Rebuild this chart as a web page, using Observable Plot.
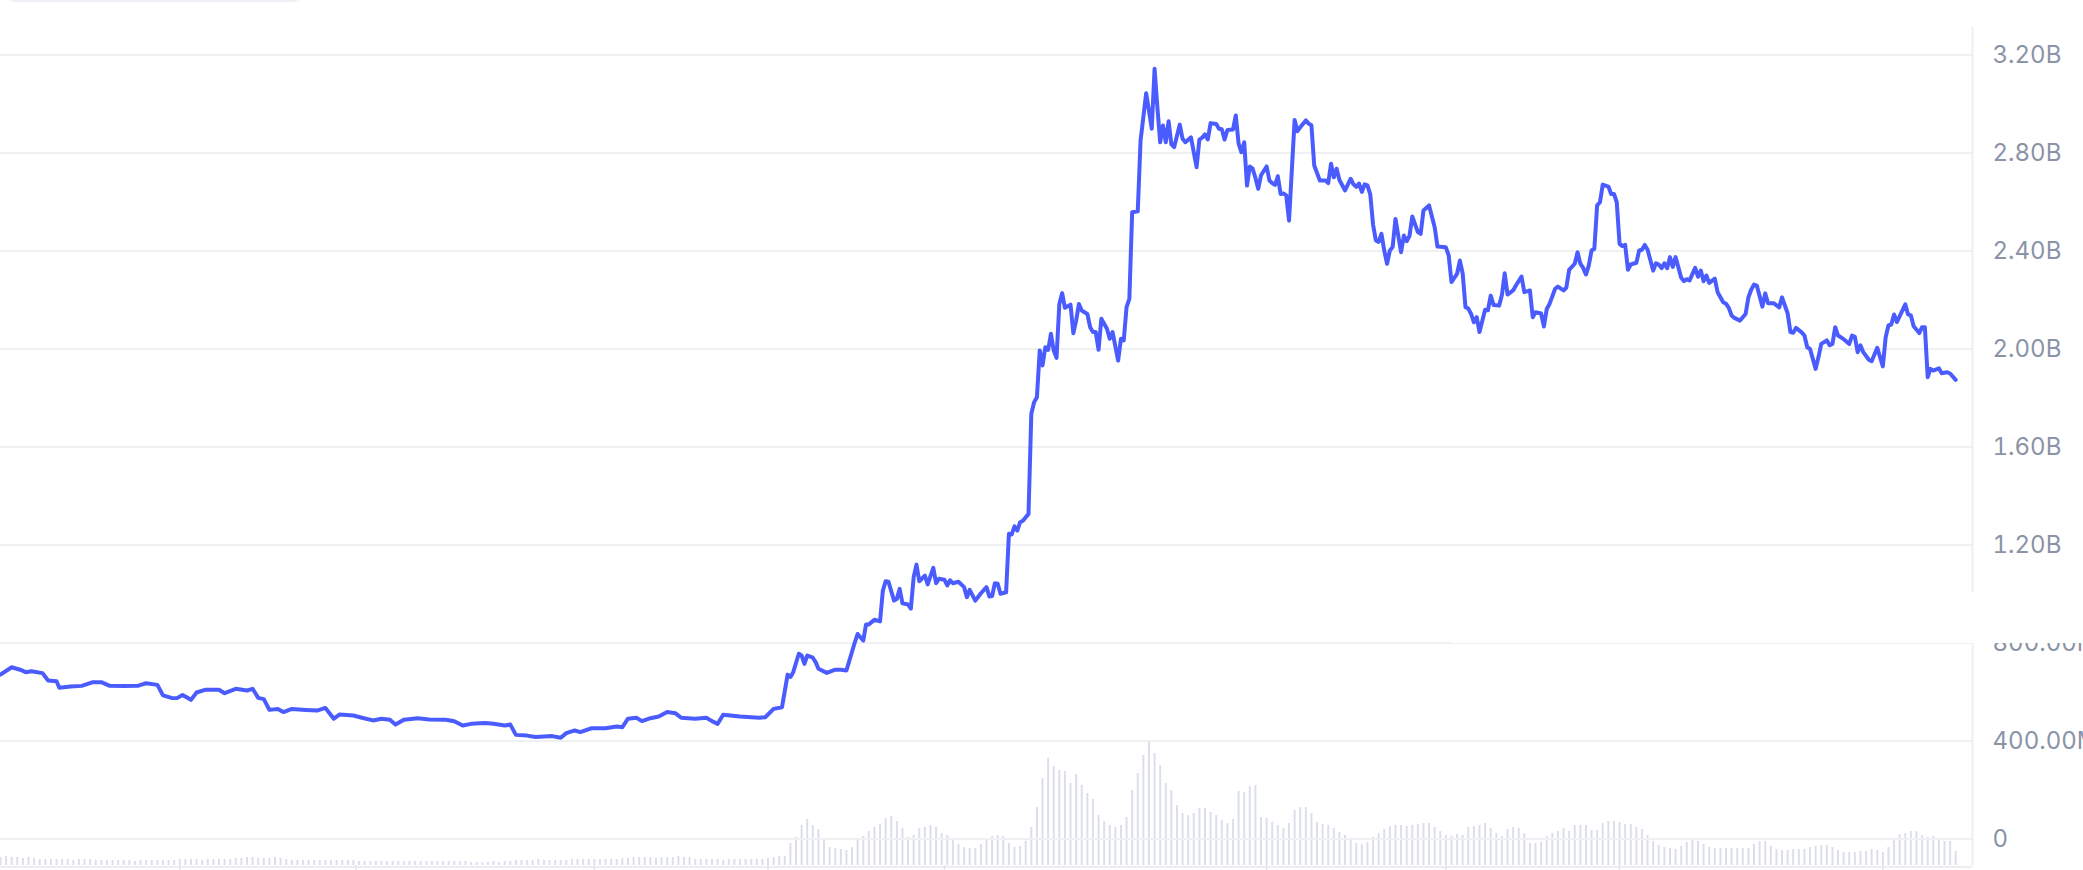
<!DOCTYPE html>
<html>
<head>
<meta charset="utf-8">
<script src="https://cdn.jsdelivr.net/npm/d3@7"></script>
<script src="https://cdn.jsdelivr.net/npm/@observablehq/plot@0.6"></script>
<style>
html, body { margin: 0; padding: 0; background: #ffffff; }
#wrap { position: relative; width: 2083px; height: 870px; overflow: hidden; background: #ffffff; }
#wrap svg { position: absolute; left: 0; top: 0; max-width: none !important; background: transparent !important; }
#tab { position: absolute; left: 2px; top: -40px; width: 304px; height: 42px; border-radius: 14px; background: #edf0f4; }
#cover { position: absolute; left: 1452px; top: 592px; width: 640px; height: 51px; background: #ffffff; }
</style>
</head>
<body>
<div id="wrap"></div>
<script>
// ---- market cap line (day index, value in billions USD) ----
const days = [
  0, 4, 7, 9, 11, 15, 17, 20, 21, 25,
  29, 33, 36, 39, 44, 49, 52, 56, 58, 61,
  63, 65, 68, 70, 73, 78, 80, 84, 88, 90,
  92, 94, 96, 99, 101, 104, 109, 113, 116, 119,
  121, 126, 129, 133, 136, 139, 141, 144, 149, 153,
  159, 162, 165, 168, 173, 176, 180, 182, 184, 188,
  191, 197, 200, 202, 205, 207, 211, 216, 220, 222,
  224, 227, 229, 232, 235, 238, 241, 243, 248, 252,
  254, 256, 258, 264, 268, 271, 273, 276, 279, 281,
  282, 283, 285, 286, 287, 288, 290, 291, 292, 295,
  298, 300, 302, 305, 306, 308, 309, 310, 312, 314,
  315, 316, 317, 319, 320, 321, 322, 324, 325, 326,
  327, 328, 330, 331, 333, 334, 335, 337, 338, 339,
  340, 342, 344, 345, 346, 348, 350, 352, 353, 354,
  355, 356, 357, 359, 360, 361, 362, 363, 364, 365,
  367, 368, 369, 370, 371, 372, 373, 374, 375, 376,
  377, 378, 379, 380, 382, 383, 384, 385, 386, 388,
  389, 390, 391, 392, 393, 395, 396, 397, 399, 400,
  401, 402, 403, 404, 406, 407, 409, 410, 411, 412,
  413, 414, 415, 416, 417, 418, 419, 421, 422, 423,
  425, 427, 428, 429, 430, 431, 432, 434, 435, 436,
  437, 438, 440, 441, 442, 443, 444, 445, 446, 447,
  448, 449, 450, 452, 453, 454, 455, 456, 457, 458,
  459, 460, 462, 463, 464, 466, 467, 468, 469, 471,
  473, 474, 475, 476, 477, 478, 480, 482, 483, 484,
  485, 486, 487, 488, 489, 490, 491, 492, 493, 494,
  495, 496, 497, 498, 500, 501, 502, 503, 504, 506,
  507, 508, 510, 512, 513, 516, 517, 518, 519, 520,
  521, 522, 523, 524, 525, 526, 527, 528, 530, 531,
  532, 533, 535, 536, 537, 538, 540, 541, 543, 544,
  546, 547, 548, 550, 551, 552, 553, 555, 556, 558,
  559, 560, 562, 563, 564, 565, 566, 567, 568, 569,
  570, 571, 572, 574, 575, 576, 577, 578, 579, 580,
  581, 582, 584, 585, 586, 587, 588, 590, 591, 592,
  593, 594, 595, 596, 597, 598, 600, 601, 602, 603,
  605, 606, 607, 608, 609, 610, 612, 613, 615, 616,
  617, 618, 619, 621, 623, 624, 625, 626, 627, 629,
  630, 631, 633, 635, 636, 638, 639, 640, 641, 643,
  644, 645, 646, 648, 649, 650, 652, 653, 654, 655,
  656, 658, 660, 661, 662, 663, 664, 665, 667, 668,
  670, 672, 673, 674, 675, 676, 677, 680, 681, 682,
  683, 685, 686, 687, 688, 689, 690, 692, 693, 695,
  696, 698
];
const marketCapB = [
  0.671, 0.701, 0.691, 0.681, 0.685, 0.677, 0.647, 0.644, 0.617, 0.622,
  0.625, 0.640, 0.640, 0.625, 0.624, 0.625, 0.636, 0.629, 0.586, 0.576,
  0.575, 0.588, 0.568, 0.598, 0.609, 0.609, 0.595, 0.613, 0.606, 0.613,
  0.576, 0.571, 0.527, 0.531, 0.518, 0.531, 0.527, 0.524, 0.535, 0.491,
  0.508, 0.504, 0.495, 0.484, 0.491, 0.487, 0.467, 0.487, 0.493, 0.488,
  0.487, 0.481, 0.463, 0.470, 0.473, 0.470, 0.463, 0.467, 0.425, 0.422,
  0.416, 0.420, 0.413, 0.432, 0.443, 0.436, 0.452, 0.452, 0.459, 0.456,
  0.491, 0.495, 0.481, 0.493, 0.500, 0.518, 0.513, 0.495, 0.491, 0.495,
  0.481, 0.470, 0.507, 0.500, 0.497, 0.495, 0.497, 0.531, 0.538, 0.671,
  0.661, 0.681, 0.756, 0.749, 0.715, 0.749, 0.740, 0.722, 0.695, 0.678,
  0.691, 0.691, 0.688, 0.803, 0.837, 0.810, 0.876, 0.876, 0.895, 0.888,
  1.014, 1.052, 1.050, 0.973, 0.980, 1.021, 0.962, 0.957, 0.940, 1.069,
  1.120, 1.052, 1.075, 1.039, 1.107, 1.044, 1.062, 1.058, 1.035, 1.056,
  1.044, 1.050, 1.028, 0.987, 1.017, 0.973, 1.003, 1.028, 0.990, 0.992,
  1.044, 1.042, 1.001, 1.007, 1.246, 1.243, 1.276, 1.259, 1.293, 1.299,
  1.327, 1.736, 1.783, 1.803, 1.994, 1.933, 2.007, 1.996, 2.062, 1.994,
  1.964, 2.184, 2.228, 2.168, 2.181, 2.064, 2.116, 2.184, 2.157, 2.143,
  2.089, 2.069, 2.069, 1.997, 2.123, 2.083, 2.042, 2.069, 1.953, 2.042,
  2.035, 2.171, 2.205, 2.558, 2.562, 2.851, 3.044, 2.973, 2.899, 3.144,
  2.987, 2.844, 2.912, 2.844, 2.930, 2.835, 2.824, 2.916, 2.858, 2.844,
  2.864, 2.742, 2.855, 2.863, 2.876, 2.855, 2.922, 2.918, 2.899, 2.897,
  2.855, 2.894, 2.896, 2.953, 2.838, 2.803, 2.844, 2.667, 2.745, 2.736,
  2.699, 2.654, 2.709, 2.745, 2.688, 2.677, 2.670, 2.705, 2.633, 2.635,
  2.627, 2.524, 2.935, 2.889, 2.905, 2.933, 2.920, 2.913, 2.749, 2.688,
  2.688, 2.677, 2.756, 2.701, 2.736, 2.690, 2.647, 2.695, 2.672, 2.662,
  2.675, 2.641, 2.672, 2.668, 2.631, 2.508, 2.443, 2.437, 2.470, 2.402,
  2.348, 2.402, 2.416, 2.531, 2.395, 2.463, 2.440, 2.461, 2.541, 2.477,
  2.470, 2.565, 2.586, 2.497, 2.418, 2.415, 2.382, 2.273, 2.290, 2.307,
  2.361, 2.307, 2.171, 2.165, 2.143, 2.109, 2.130, 2.069, 2.160, 2.158,
  2.218, 2.180, 2.177, 2.220, 2.309, 2.222, 2.239, 2.259, 2.296, 2.232,
  2.239, 2.130, 2.150, 2.145, 2.092, 2.163, 2.184, 2.246, 2.255, 2.239,
  2.250, 2.323, 2.348, 2.395, 2.348, 2.331, 2.304, 2.340, 2.402, 2.409,
  2.586, 2.599, 2.671, 2.663, 2.633, 2.633, 2.599, 2.429, 2.420, 2.425,
  2.323, 2.345, 2.352, 2.402, 2.405, 2.425, 2.405, 2.320, 2.350, 2.345,
  2.330, 2.350, 2.330, 2.375, 2.335, 2.375, 2.291, 2.277, 2.285, 2.280,
  2.331, 2.295, 2.320, 2.277, 2.300, 2.270, 2.287, 2.232, 2.191, 2.185,
  2.168, 2.137, 2.127, 2.116, 2.143, 2.211, 2.242, 2.263, 2.259, 2.173,
  2.227, 2.187, 2.187, 2.170, 2.211, 2.146, 2.069, 2.066, 2.086, 2.068,
  2.055, 2.007, 2.000, 1.919, 1.966, 2.021, 2.035, 2.015, 2.021, 2.089,
  2.055, 2.040, 2.021, 2.055, 2.050, 1.987, 2.015, 1.987, 1.956, 1.950,
  2.005, 1.929, 2.048, 2.096, 2.100, 2.141, 2.110, 2.182, 2.141, 2.137,
  2.093, 2.065, 2.089, 2.089, 1.885, 1.919, 1.912, 1.921, 1.901, 1.905,
  1.900, 1.874
];

// ---- trading volume bars, one every second day starting at day 0 (relative units) ----
const volume = [
  8, 9, 8, 8, 7, 8,
  7, 6, 6, 6, 6, 6, 6, 5, 6, 6, 6, 5,
  5, 5, 5, 5, 5, 5, 4, 5, 5, 5, 5, 5, 5,
  5, 6, 6, 6, 6, 5, 6, 6, 6, 6, 6, 7,
  7, 8, 8, 7, 7, 7, 8, 7,
  6, 5, 5, 5, 5, 5, 5, 5, 5, 5, 5, 5, 5,
  4, 4, 4, 4, 4, 4, 4, 4, 4, 4, 4, 4, 4, 4, 4, 4, 4, 4, 4,
  4, 3, 3, 3, 3, 4, 3, 4, 4,
  5, 5, 5, 5, 6, 5, 5, 5, 5, 5,
  6, 6, 6, 6, 6, 6, 6, 6, 6, 7,
  7, 8, 8, 8, 8, 7, 8,
  8, 8, 9, 8, 8,
  6, 6, 6, 6, 6, 5, 6, 6, 6, 6, 6, 6, 6,
  7, 8, 9,
  9, 22, 28, 40, 46, 40, 36, 25, 18, 17,
  16, 15, 18, 25, 29, 34, 38, 41, 47, 49,
  44, 37, 28, 30, 37, 38, 40, 38, 32, 30,
  26, 21, 18, 17, 17, 21, 26, 29, 30, 29,
  22, 18, 19, 24, 38, 58, 87, 107, 99, 95,
  94, 82, 91, 80, 72, 66, 50, 44, 40, 38,
  40, 48, 75, 92, 110, 124, 112, 100, 82, 75,
  60, 52, 50, 52, 57, 57, 53, 50, 45, 42,
  46, 74, 73, 79, 80, 48, 47, 43, 40, 37,
  42, 55, 58, 58, 52, 43, 41, 40, 37, 33,
  30, 25, 22, 21, 23, 28, 32, 36, 39, 40,
  40, 39, 40, 41, 42, 42, 38, 34, 30, 29,
  31, 30, 38, 39, 40, 42, 37, 32, 29, 36,
  38, 37, 32, 22, 22, 23, 29, 32, 34, 37,
  34, 40, 40, 40, 35, 35, 42, 44, 44, 43,
  41, 41, 38, 36, 30, 24, 20, 18, 17, 16,
  19, 23, 26, 24, 21, 18, 17, 17, 17, 17,
  17, 17, 17, 21, 24, 24, 19, 16, 15, 15,
  16, 16, 16, 18, 19, 20, 20, 18, 15, 13,
  13, 13, 14, 14, 16, 15, 13, 18, 25, 31,
  32, 34, 34, 30, 28, 29, 26, 24, 24, 14
];

// ---- axis ticks ----
const yTicks = [0, 0.4, 0.8, 1.2, 1.6, 2.0, 2.4, 2.8, 3.2];
const yTickLabels = ["0", "400.00M", "800.00M", "1.20B", "1.60B", "2.00B", "2.40B", "2.80B", "3.20B"];
const xTickDays = [64, 127, 212, 274, 337, 452, 516, 578, 672];
const dayDomain = [0, 704];

const lineData = days.map((d, i) => ({day: d, cap: marketCapB[i]}));
const volData = volume.map((v, i) => ({day: i * 2, vol: v}));

const W = 2083, H = 870;
const FONT = "Inter, 'Open Sans', 'DejaVu Sans', sans-serif";

const volPlot = Plot.plot({
  width: W, height: H,
  marginLeft: 0, marginRight: 111, marginTop: 740, marginBottom: 5,
  x: {domain: dayDomain, axis: null},
  y: {domain: [0, 125], axis: null},
  style: {background: "transparent", fontFamily: FONT},
  marks: [
    Plot.ruleX(volData, {x: "day", y1: 0, y2: "vol", stroke: "#dcdfeb", strokeWidth: 2}),
    Plot.ruleY([0], {stroke: "#eceef2", strokeWidth: 2, dy: 1.5}),
    Plot.axisX(xTickDays, {tickSize: 5, tickFormat: () => "", label: null, stroke: "#e3e5ec", strokeWidth: 1.5})
  ]
});

const mainPlot = Plot.plot({
  width: W, height: H,
  marginLeft: 0, marginRight: 111, marginTop: 54.5, marginBottom: 31.5,
  x: {domain: dayDomain, axis: null},
  y: {domain: [0, 3.2], axis: null},
  style: {background: "transparent", fontFamily: FONT, color: "#8b93a7"},
  marks: [
    Plot.gridY(yTicks, {stroke: "#eff0f3", strokeOpacity: 1, strokeWidth: 2}),
    Plot.ruleX([dayDomain[1]], {y1: 3.2, y2: 0, insetTop: -27.5, insetBottom: -27, stroke: "#eff0f3", strokeWidth: 2}),
    Plot.line(lineData, {x: "day", y: "cap", stroke: "#4b5cff", strokeWidth: 4, strokeLinejoin: "round", strokeLinecap: "round"}),
    Plot.axisY(yTicks, {
      anchor: "right", tickSize: 0, tickPadding: 20, label: null,
      tickFormat: (d) => yTickLabels[yTicks.indexOf(d)],
      fontSize: 24, fontFamily: FONT
    })
  ]
});

const wrap = document.getElementById("wrap");
wrap.appendChild(volPlot);
wrap.appendChild(mainPlot);
const cover = document.createElement("div"); cover.id = "cover"; wrap.appendChild(cover);
const tab = document.createElement("div"); tab.id = "tab"; wrap.appendChild(tab);
</script>
</body>
</html>
